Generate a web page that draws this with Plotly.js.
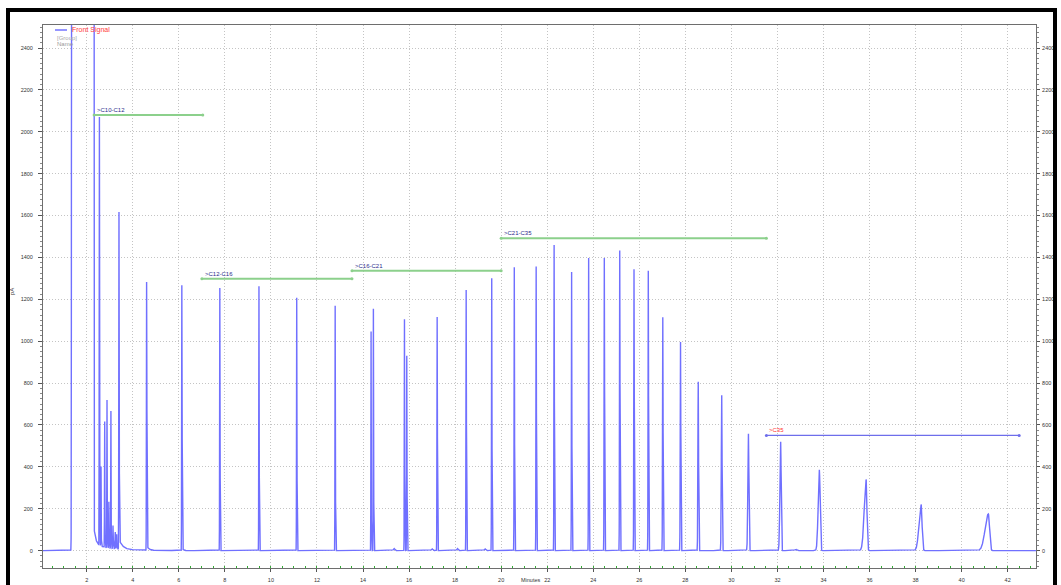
<!DOCTYPE html>
<html>
<head>
<meta charset="utf-8">
<script src="https://cdn.plot.ly/plotly-3.0.1.min.js"></script>
<style>
  html, body { margin: 0; padding: 0; background: #fff; overflow: hidden; }
  #chart { position: absolute; left: 0; top: 0; width: 1061px; height: 585px; }
  #frame { position: absolute; left: 6px; top: 8px; width: 1051px; height: 600px;
           box-sizing: border-box; border: 4px solid #000; border-bottom: none; pointer-events: none; }
</style>
</head>
<body>
<div id="chart"></div>
<div id="frame"></div>
<script>
// ---- Front Signal chromatogram (FID, pA vs minutes) ----

// Solvent front: off-scale between these times
const solventStart = 1.35;
const solventEnd = 2.285;
const solventLevel = 100000;

// Resolved peaks: retention time (min), height (pA), leading / trailing width (min)
const peakTimes = [2.55, 2.62, 2.78, 2.88, 2.96, 3.05, 3.14, 3.24, 3.30, 3.40,
  4.60, 6.13, 7.78, 9.48, 11.12, 12.79, 14.35, 14.45, 15.80, 15.90,
  17.22, 18.48, 19.59, 20.57, 21.52, 22.30, 23.06, 23.80, 24.48, 25.15,
  25.77, 26.39, 27.02, 27.79, 28.56, 29.58, 30.74, 32.14, 33.82, 35.85,
  38.24, 41.16, 15.35, 17.00, 18.10, 19.30, 32.80];
const peakHeights = [2045, 380, 600, 705, 220, 655, 110, 80, 70, 1610,
  1281, 1267, 1254, 1262, 1208, 1169, 1046, 1155, 1105, 930,
  1116, 1245, 1301, 1353, 1357, 1460, 1330, 1397, 1397, 1433,
  1344, 1337, 1115, 996, 806, 742, 558, 520, 386, 340,
  220, 175, 10, 8, 10, 8, 6];
const peakSigmaLeft = [0.008, 0.008, 0.008, 0.008, 0.008, 0.008, 0.010, 0.010, 0.010, 0.008,
  0.008, 0.008, 0.008, 0.008, 0.008, 0.008, 0.008, 0.008, 0.008, 0.008,
  0.009, 0.009, 0.009, 0.009, 0.009, 0.009, 0.009, 0.009, 0.010, 0.010,
  0.010, 0.010, 0.011, 0.012, 0.015, 0.018, 0.025, 0.032, 0.050, 0.080,
  0.090, 0.140, 0.030, 0.030, 0.030, 0.030, 0.040];
const peakSigmaRight = [0.010, 0.008, 0.008, 0.008, 0.008, 0.008, 0.010, 0.010, 0.010, 0.010,
  0.012, 0.012, 0.010, 0.010, 0.010, 0.010, 0.008, 0.010, 0.008, 0.010,
  0.010, 0.010, 0.010, 0.010, 0.010, 0.010, 0.010, 0.010, 0.011, 0.011,
  0.011, 0.011, 0.012, 0.012, 0.014, 0.015, 0.018, 0.020, 0.030, 0.035,
  0.040, 0.050, 0.030, 0.030, 0.030, 0.030, 0.040];

// Exponential tailing after the early peaks
const tailStart = [2.29, 2.29, 3.41, 4.61, 6.14];
const tailHeight = [110, 30, 45, 22, 10];
const tailDecay = [0.08, 0.8, 0.15, 0.08, 0.06];

// Carbon-range integration windows
const rangeLabels = ['>C10-C12', '>C12-C16', '>C16-C21', '>C21-C35', '>C35'];
const rangeStart = [2.32, 7.00, 13.52, 20.00, 31.52];
const rangeEnd = [7.04, 13.52, 20.00, 31.52, 42.50];
const rangeLevel = [2080, 1298, 1336, 1492, 550];

// Axis extents and ticks
const timeRange = [0.1, 43.23];
const signalRange = [-83, 2510];
const timeTick = 2;
const signalTick = 200;

// ---- build the detector trace ----
const step = 0.002;
const times = [];
const signal = [];
for (let t = timeRange[0]; t <= timeRange[1]; t += step) {
  let v = 0;
  const rise = 1 / (1 + Math.exp(-(t - solventStart) / 0.004));
  const fall = 1 / (1 + Math.exp((t - solventEnd) / 0.004));
  v += solventLevel * rise * fall;
  for (let i = 0; i < peakTimes.length; i++) {
    const d = t - peakTimes[i];
    const s = d < 0 ? peakSigmaLeft[i] : peakSigmaRight[i];
    if (Math.abs(d) < 10 * s) v += peakHeights[i] * Math.exp(-0.5 * (d / s) * (d / s));
  }
  for (let i = 0; i < tailStart.length; i++) {
    const d = t - tailStart[i];
    if (d >= 0) v += tailHeight[i] * Math.exp(-d / tailDecay[i]);
  }
  times.push(+t.toFixed(4));
  signal.push(v);
}

const traceColor = 'rgb(112,112,255)';
const rangeColors = ['rgb(140,208,140)', 'rgb(140,208,140)', 'rgb(140,208,140)', 'rgb(140,208,140)', 'rgb(110,110,235)'];
const rangeWidths = [2, 2, 2, 2, 1.2];
const rangeTextColors = ['#2b2b8c', '#2b2b8c', '#2b2b8c', '#2b2b8c', '#ff3030'];

const traces = [{
  x: times, y: signal, type: 'scatter', mode: 'lines',
  line: { color: traceColor, width: 1.4 }, hoverinfo: 'skip', showlegend: false
}];

rangeLabels.forEach((lbl, i) => {
  traces.push({
    x: [rangeStart[i], rangeEnd[i]], y: [rangeLevel[i], rangeLevel[i]],
    type: 'scatter', mode: 'lines+markers',
    line: { color: rangeColors[i], width: rangeWidths[i] },
    marker: { size: 3, color: rangeColors[i] },
    hoverinfo: 'skip', showlegend: false
  });
});

// anchor trace for the right-hand signal axis
traces.push({
  x: [times[0]], y: [0], yaxis: 'y2', type: 'scatter', mode: 'markers',
  marker: { opacity: 0 }, hoverinfo: 'skip', showlegend: false
});

const fontFamily = 'Liberation Sans, Arial, sans-serif';
const tickFont = { family: fontFamily, size: 5.5, color: '#333' };
const gridDots = '1px,2px';

const annotations = rangeLabels.map((lbl, i) => ({
  x: rangeStart[i], y: rangeLevel[i], xref: 'x', yref: 'y',
  text: lbl, showarrow: false, xanchor: 'left', yanchor: 'middle',
  xshift: 1, yshift: 5,
  font: { family: fontFamily, size: 6, color: rangeTextColors[i] }
}));

annotations.push(
  { xref: 'paper', yref: 'paper', x: 0.0272, y: 0.9908, text: 'Front Signal', showarrow: false,
    xanchor: 'left', yanchor: 'middle', font: { family: fontFamily, size: 7, color: '#ff3b3b' } },
  { xref: 'paper', yref: 'paper', x: 0.0121, y: 0.9766, text: '[Group]', showarrow: false,
    xanchor: 'left', yanchor: 'middle', font: { family: fontFamily, size: 6, color: '#aaaaaa' } },
  { xref: 'paper', yref: 'paper', x: 0.0121, y: 0.9645, text: 'Name', showarrow: false,
    xanchor: 'left', yanchor: 'middle', font: { family: fontFamily, size: 6, color: '#999999' } },
  { xref: 'paper', yref: 'paper', x: -0.0312, y: 0.508, text: 'pA', showarrow: false, textangle: -90,
    xanchor: 'center', yanchor: 'middle', font: { family: fontFamily, size: 6, color: '#333' } },
  { xref: 'paper', yref: 'paper', x: 0.4915, y: -0.0313, text: 'Minutes', showarrow: false,
    xanchor: 'center', yanchor: 'bottom', font: { family: fontFamily, size: 5.5, color: '#333' } }
);

const layout = {
  width: 1061, height: 585,
  margin: { l: 43, r: 25, t: 25, b: 17, pad: 0 },
  paper_bgcolor: '#fff', plot_bgcolor: '#fff',
  showlegend: false,
  xaxis: {
    range: timeRange, tick0: 0, dtick: timeTick,
    showgrid: true, gridcolor: '#c4c4c4', griddash: gridDots, gridwidth: 1,
    zeroline: false, showline: true, linecolor: '#6e6e6e', linewidth: 1, mirror: true,
    ticks: 'outside', ticklen: 3, tickcolor: '#555', tickfont: tickFont, ticklabelstandoff: 3,
    minor: { dtick: 0.5, ticks: 'inside', ticklen: 2, tickcolor: '#33aa33', showgrid: false }
  },
  yaxis: {
    range: signalRange, tick0: 0, dtick: signalTick,
    showgrid: true, gridcolor: '#c4c4c4', griddash: gridDots, gridwidth: 1,
    zeroline: false, showline: true, linecolor: '#6e6e6e', linewidth: 1, mirror: true,
    ticks: 'outside', ticklen: 4, tickcolor: '#555', tickfont: tickFont, ticklabelstandoff: 4,
    minor: { dtick: 25, ticks: 'outside', ticklen: 2, tickcolor: '#888', showgrid: false }
  },
  yaxis2: {
    range: signalRange, tick0: 0, dtick: signalTick, overlaying: 'y', side: 'right',
    showgrid: false, zeroline: false, showline: false,
    ticks: 'outside', ticklen: 3, tickcolor: '#555', tickfont: tickFont, ticklabelstandoff: 1,
    minor: { dtick: 25, ticks: 'outside', ticklen: 2, tickcolor: '#888', showgrid: false }
  },
  shapes: [{
    type: 'line', xref: 'paper', yref: 'paper', x0: 0.0121, x1: 0.0242, y0: 0.9908, y1: 0.9908,
    line: { color: 'rgb(150,150,255)', width: 2 }
  }],
  annotations: annotations
};

Plotly.newPlot('chart', traces, layout, { displayModeBar: false, staticPlot: true });
</script>
</body>
</html>
